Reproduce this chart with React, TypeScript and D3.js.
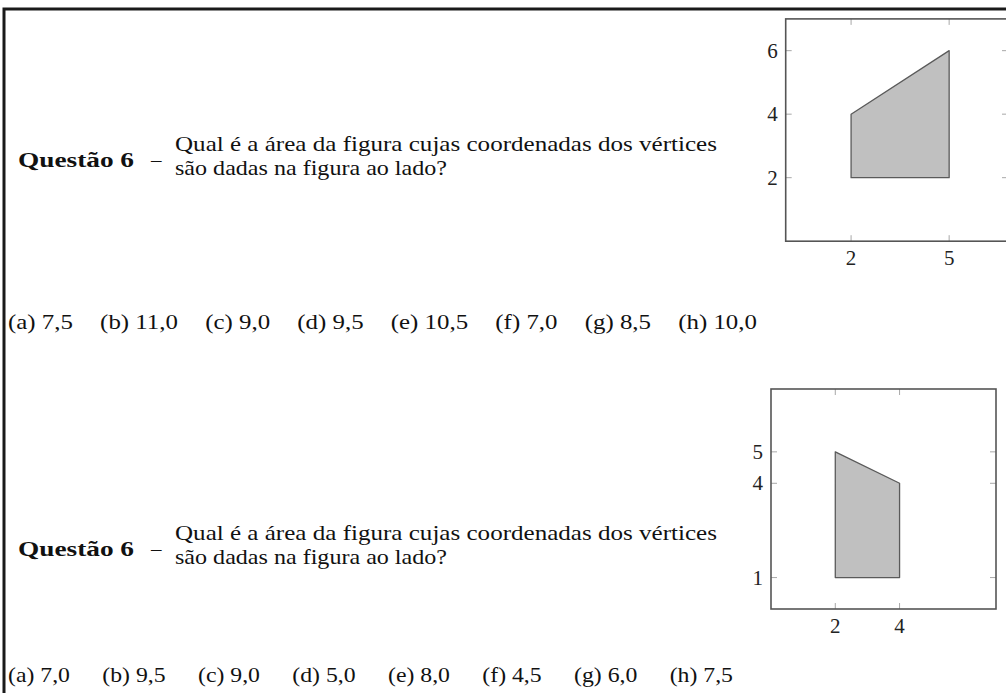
import React from "react";
import * as d3 from "d3";

// ---------- data ----------
const questionLabel = "Questão 6";
const questionLine1 = "Qual é a área da figura cujas coordenadas dos vértices";
const questionLine2 = "são dadas na figura ao lado?";

const plot1XTicks = [2, 5];
const plot1YTicks = [2, 4, 6];
const plot1Vertices: [number, number][] = [[2, 2], [5, 2], [5, 6], [2, 4]];
const plot1Answers = ["(a) 7,5", "(b) 11,0", "(c) 9,0", "(d) 9,5", "(e) 10,5", "(f) 7,0", "(g) 8,5", "(h) 10,0"];

const plot2XTicks = [2, 4];
const plot2YTicks = [1, 4, 5];
const plot2Vertices: [number, number][] = [[2, 1], [4, 1], [4, 4], [2, 5]];
const plot2Answers = ["(a) 7,0", "(b) 9,5", "(c) 9,0", "(d) 5,0", "(e) 8,0", "(f) 4,5", "(g) 6,0", "(h) 7,5"];

// ---------- layout ----------
const FONT = "'Liberation Serif', 'Times New Roman', serif";

type PlotProps = {
  xDomain: [number, number];
  yDomain: [number, number];
  xRange: [number, number];
  yRange: [number, number];
  xTicks: number[];
  yTicks: number[];
  vertices: [number, number][];
};

function Plot({ xDomain, yDomain, xRange, yRange, xTicks, yTicks, vertices }: PlotProps) {
  const x = d3.scaleLinear().domain(xDomain).range(xRange);
  const y = d3.scaleLinear().domain(yDomain).range(yRange);
  const line = d3
    .line<[number, number]>()
    .x((d) => x(d[0]))
    .y((d) => y(d[1]))
    .curve(d3.curveLinearClosed);
  const [x0, x1] = xRange;
  const [yb, yt] = yRange;
  const tl = 6;
  const tickColor = "#a8a8a8";
  return (
    <g>
      <path d={line(vertices) || ""} fill="#c0c0c0" stroke="#5a5a5a" strokeWidth={1.3} strokeLinejoin="round" />
      {xTicks.map((t) => (
        <g key={"x" + t}>
          <line x1={x(t)} x2={x(t)} y1={yt} y2={yt + tl} stroke={tickColor} strokeWidth={1} />
          <line x1={x(t)} x2={x(t)} y1={yb} y2={yb - tl} stroke={tickColor} strokeWidth={1} />
          <text x={x(t)} y={yb + 24} textAnchor="middle" fontFamily={FONT} fontSize={21} fill="#222">
            {t}
          </text>
        </g>
      ))}
      {yTicks.map((t) => (
        <g key={"y" + t}>
          <line x1={x0} x2={x0 + tl} y1={y(t)} y2={y(t)} stroke={tickColor} strokeWidth={1} />
          <line x1={x1} x2={x1 - tl} y1={y(t)} y2={y(t)} stroke={tickColor} strokeWidth={1} />
          <text x={x0 - 8} y={y(t) + 7} textAnchor="end" fontFamily={FONT} fontSize={21} fill="#222">
            {t}
          </text>
        </g>
      ))}
      <rect x={x0} y={yt} width={x1 - x0} height={yb - yt} fill="none" stroke="#555" strokeWidth={1.6} />
    </g>
  );
}

function Question({ top }: { top: number }) {
  return (
    <g fontFamily={FONT} fill="#111">
      <text x={18} y={top + 16} fontSize={21} fontWeight="bold" textLength={116} lengthAdjust="spacingAndGlyphs">
        {questionLabel}
      </text>
      <text x={151} y={top + 16} fontSize={21}>
        –
      </text>
      <text x={175} y={top} fontSize={22} textLength={542} lengthAdjust="spacingAndGlyphs">
        {questionLine1}
      </text>
      <text x={175} y={top + 24} fontSize={22} textLength={272} lengthAdjust="spacingAndGlyphs">
        {questionLine2}
      </text>
    </g>
  );
}

function Answers({ items, y, width, gap }: { items: string[]; y: number; width: number; gap: number }) {
  return (
    <text x={8} y={y} fontFamily={FONT} fill="#111" fontSize={22} textLength={width} lengthAdjust="spacingAndGlyphs">
      {items.map((s, i) => (
        <tspan key={s} dx={i === 0 ? 0 : gap}>
          {s}
        </tspan>
      ))}
    </text>
  );
}

export default function App() {
  return (
    <svg width={1006} height={693} style={{ position: "absolute", left: 0, top: 0, background: "#fff" }}>
      <rect x={0} y={0} width={1006} height={693} fill="#fff" />
      <rect x={4} y={9} width={1100} height={800} fill="none" stroke="#1a1a1a" strokeWidth={3} />

      <Question top={151} />
      <Answers items={plot1Answers} y={329} width={749} gap={24} />
      <Plot
        xDomain={[0, 6.8]}
        yDomain={[0, 7]}
        xRange={[785.7, 1008]}
        yRange={[241.2, 18.9]}
        xTicks={plot1XTicks}
        yTicks={plot1YTicks}
        vertices={plot1Vertices}
      />

      <Question top={540} />
      <Answers items={plot2Answers} y={682} width={725} gap={30} />
      <Plot
        xDomain={[0, 7]}
        yDomain={[0, 7]}
        xRange={[771, 996]}
        yRange={[609, 389]}
        xTicks={plot2XTicks}
        yTicks={plot2YTicks}
        vertices={plot2Vertices}
      />
    </svg>
  );
}
